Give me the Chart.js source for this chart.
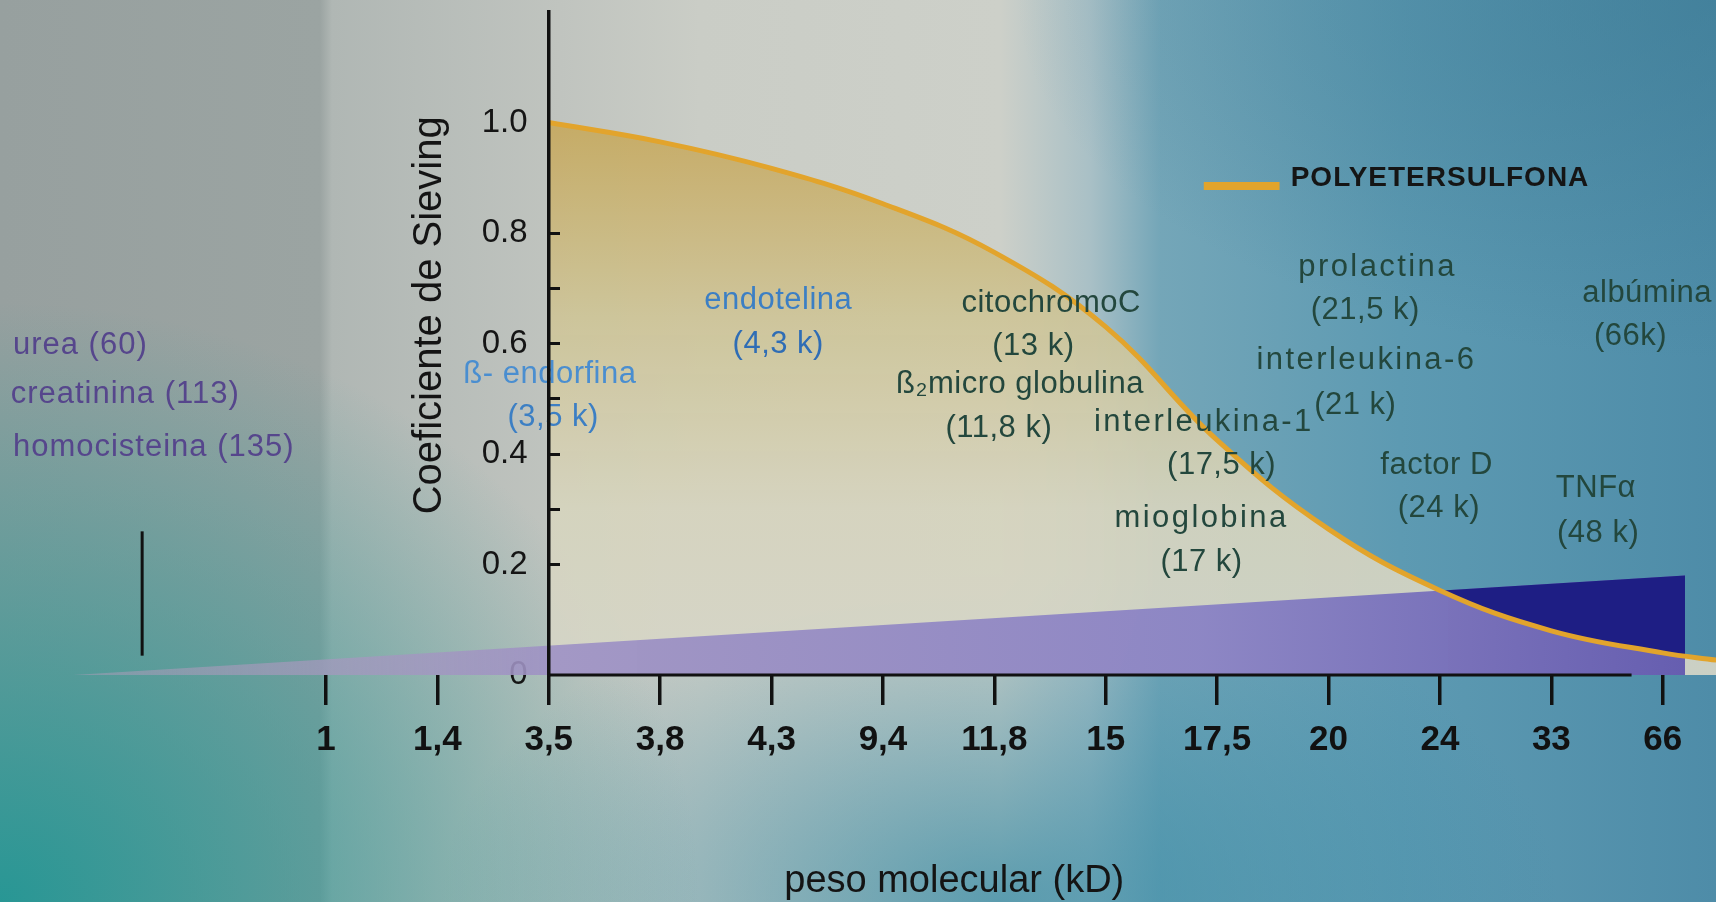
<!DOCTYPE html>
<html>
<head>
<meta charset="utf-8">
<script src="https://cdn.jsdelivr.net/npm/chart.js@4.4.1/dist/chart.umd.min.js"></script>
<style>
  html, body { margin: 0; padding: 0; }
  body {
    width: 1716px; height: 902px; overflow: hidden;
    background:
      radial-gradient(ellipse 700px 600px at 0px 902px, rgba(34,150,148,0.95), rgba(34,150,148,0) 100%),
      radial-gradient(ellipse 560px 330px at 1000px 902px, rgba(52,138,165,0.75), rgba(52,138,165,0) 100%),
      radial-gradient(ellipse 700px 360px at 1716px 0px, rgba(60,122,148,0.6), rgba(60,122,148,0) 100%),
      linear-gradient(90deg, #97a09f 0px, #9ba4a2 320px, #b0b7b4 332px, #c0c4bf 560px, #cacdc6 700px, #cdd0c9 1000px, #a9c0c6 1090px, #74a6b8 1160px, #5d9ab2 1400px, #4e8ca8 1716px);
  }
  #wrap { position: relative; width: 1716px; height: 902px; }
</style>
</head>
<body>
<div id="wrap"><canvas id="sievingChart"></canvas></div>
<script>
// category ticks on the x axis (peso molecular, kD)
const xLabels = ['1', '1,4', '3,5', '3,8', '4,3', '9,4', '11,8', '15', '17,5', '20', '24', '33', '66'];
const yLabelValues = [0, 0.2, 0.4, 0.6, 0.8, 1.0];
const yLabelTexts = ['0', '0.2', '0.4', '0.6', '0.8', '1.0'];

// POLYETERSULFONA sieving curve, x = category index
const curveX = [2, 3, 4, 5, 6, 7, 8, 9, 10, 11, 12, 12.48];
const curveY = [1.0, 0.965, 0.917, 0.853, 0.765, 0.63, 0.425, 0.264, 0.153, 0.08, 0.04, 0.027];

// blue wedge under the curve
const wedgeX = [-2.27, 12.2];
const wedgeY = [0, 0.18];

// marker for urea / creatinina / homocisteina
const markerX = [-1.65, -1.65];
const markerY = [0.035, 0.26];

// x axis base line (starts at the y axis)
const baseX = [2, 11.72];
const baseY = [0, 0];

const yAxisAt = 2;
const orange = '#e2a42c';
const navy = '#1e1e84';
const purple = '#56468c';
const blue = '#3c7fc4';
const green = '#23473d';
const fontFamily = "'Liberation Sans', Arial, sans-serif";

const notes = [
  { text: 'urea (60)', x: -2.81, y: 0.596, color: purple, align: 'left', spacing: 1 },
  { text: 'creatinina (113)', x: -2.83, y: 0.508, color: purple, align: 'left', spacing: 1 },
  { text: 'homocisteina (135)', x: -2.81, y: 0.411, color: purple, align: 'left', spacing: 1 },
  { text: 'ß- endorfina', x: 2.01, y: 0.544, color: '#4a8ed0' },
  { text: '(3,5 k)', x: 2.04, y: 0.466, color: blue },
  { text: 'endotelina', x: 4.06, y: 0.678, color: blue },
  { text: '(4,3 k)', x: 4.06, y: 0.598, color: '#2f6db5' },
  { text: 'citochromoC', x: 6.51, y: 0.672, color: green },
  { text: '(13 k)', x: 6.35, y: 0.595, color: green },
  { text: 'ß₂micro globulina', x: 6.23, y: 0.526, color: green },
  { text: '(11,8 k)', x: 6.04, y: 0.446, color: green },
  { text: 'interleukina-1', x: 7.88, y: 0.457, color: green, spacing: 2.4 },
  { text: '(17,5 k)', x: 8.04, y: 0.379, color: green },
  { text: 'mioglobina', x: 7.86, y: 0.283, color: green, spacing: 2.4 },
  { text: '(17 k)', x: 7.86, y: 0.203, color: green },
  { text: 'prolactina', x: 9.44, y: 0.738, color: green, spacing: 2.4 },
  { text: '(21,5 k)', x: 9.33, y: 0.66, color: green },
  { text: 'interleukina-6', x: 9.34, y: 0.569, color: green, spacing: 2.4 },
  { text: '(21 k)', x: 9.24, y: 0.488, color: green },
  { text: 'factor D', x: 9.97, y: 0.379, color: green },
  { text: '(24 k)', x: 9.99, y: 0.301, color: green },
  { text: 'albúmina', x: 11.86, y: 0.691, color: green },
  { text: '(66k)', x: 11.71, y: 0.613, color: green },
  { text: 'TNFα', x: 11.4, y: 0.337, color: green },
  { text: '(48 k)', x: 11.42, y: 0.257, color: green }
];

const toPoints = (xs, ys) => xs.map((x, i) => ({ x: x, y: ys[i] }));

// labels, legend, axis titles
const textLayer = {
  id: 'textLayer',
  afterDatasetsDraw(chart) {
    const { ctx, scales: { x, y } } = chart;
    ctx.save();
    ctx.textBaseline = 'middle';
    notes.forEach(n => {
      ctx.font = '31px ' + fontFamily;
      ctx.letterSpacing = (n.spacing || 0.5) + 'px';
      ctx.fillStyle = n.color;
      ctx.textAlign = n.align || 'center';
      ctx.fillText(n.text, x.getPixelForValue(n.x), y.getPixelForValue(n.y));
    });

    // legend entry
    ctx.strokeStyle = orange;
    ctx.lineWidth = 8;
    ctx.beginPath();
    ctx.moveTo(x.getPixelForValue(7.88), y.getPixelForValue(0.885));
    ctx.lineTo(x.getPixelForValue(8.56), y.getPixelForValue(0.885));
    ctx.stroke();
    ctx.font = 'bold 28px ' + fontFamily;
    ctx.letterSpacing = '1px';
    ctx.fillStyle = '#151515';
    ctx.textAlign = 'left';
    ctx.fillText('POLYETERSULFONA', x.getPixelForValue(8.66), y.getPixelForValue(0.899));

    // x axis title
    ctx.font = '38px ' + fontFamily;
    ctx.letterSpacing = '0px';
    ctx.textAlign = 'center';
    ctx.fillStyle = '#141414';
    ctx.fillText('peso molecular (kD)', x.getPixelForValue(5.64), y.getPixelForValue(-0.373));

    // y axis title
    ctx.translate(x.getPixelForValue(0.93), y.getPixelForValue(0.651));
    ctx.rotate(-Math.PI / 2);
    ctx.font = '40px ' + fontFamily;
    ctx.fillText('Coeficiente de Sieving', 0, 0);
    ctx.restore();
  }
};

const noPad = function(scale) {
  scale.paddingTop = 0;
  scale.paddingBottom = 0;
  scale.paddingLeft = 0;
  scale.paddingRight = 0;
};

const ctx = document.getElementById('sievingChart').getContext('2d');
const sievingChart = new Chart(ctx, {
  type: 'line',
  data: {
    datasets: [
      {
        // part of the wedge above the curve
        data: toPoints(wedgeX, wedgeY),
        borderWidth: 0,
        pointRadius: 0,
        fill: { target: 2, above: navy, below: 'rgba(0,0,0,0)' }
      },
      {
        data: toPoints(wedgeX, wedgeY),
        borderWidth: 0,
        pointRadius: 0,
        fill: 'origin',
        backgroundColor: function(context) {
          const chart = context.chart;
          if (!chart.chartArea) return 'rgba(0,0,0,0)';
          const xs = chart.scales.x;
          const g = chart.ctx.createLinearGradient(xs.getPixelForValue(wedgeX[0]), 0, xs.getPixelForValue(wedgeX[1]), 0);
          g.addColorStop(0, 'rgba(178,158,186,0.45)');
          g.addColorStop(0.3, 'rgba(158,146,196,0.92)');
          g.addColorStop(0.7, 'rgba(138,130,196,0.95)');
          g.addColorStop(1, 'rgba(102,94,176,1)');
          return g;
        }
      },
      {
        label: 'POLYETERSULFONA',
        data: toPoints(curveX, curveY),
        borderColor: orange,
        borderWidth: 5,
        pointRadius: 0,
        tension: 0.4,
        fill: 'origin',
        backgroundColor: function(context) {
          const chart = context.chart;
          if (!chart.chartArea) return 'rgba(0,0,0,0)';
          const ys = chart.scales.y;
          const g = chart.ctx.createLinearGradient(0, ys.getPixelForValue(1.0), 0, ys.getPixelForValue(0));
          g.addColorStop(0, 'rgba(198,168,92,0.9)');
          g.addColorStop(0.35, 'rgba(206,196,150,0.9)');
          g.addColorStop(0.7, 'rgba(214,212,190,0.92)');
          g.addColorStop(1, 'rgba(214,214,200,0.92)');
          return g;
        }
      },
      {
        data: toPoints(baseX, baseY),
        borderColor: '#111',
        borderWidth: 3,
        pointRadius: 0,
        fill: false,
        clip: false
      },
      {
        data: toPoints(markerX, markerY),
        borderColor: '#111',
        borderWidth: 3,
        pointRadius: 0,
        fill: false,
        clip: false
      }
    ]
  },
  options: {
    responsive: true,
    maintainAspectRatio: false,
    animation: false,
    events: [],
    layout: { padding: { top: 12, left: 0, right: 0, bottom: 127 } },
    plugins: {
      legend: { display: false },
      tooltip: { enabled: false },
      filler: { drawTime: 'beforeDatasetsDraw' }
    },
    scales: {
      x: {
        type: 'linear',
        min: -2.926,
        max: 12.478,
        afterBuildTicks: function(scale) {
          scale.ticks = xLabels.map((_, i) => ({ value: i }));
        },
        afterFit: noPad,
        ticks: {
          autoSkip: false,
          maxRotation: 0,
          padding: 14,
          color: '#111',
          font: { family: fontFamily, size: 35, weight: 'bold' },
          callback: function(value) {
            return xLabels[value];
          }
        },
        grid: {
          drawOnChartArea: false,
          drawTicks: true,
          tickLength: 30,
          color: '#111',
          lineWidth: 3.5
        },
        border: { display: false }
      },
      y: {
        // tick labels, set a little left of the axis line
        type: 'linear',
        position: { x: yAxisAt - 0.19 },
        min: 0,
        max: 1.2,
        z: 1,
        afterFit: noPad,
        ticks: {
          stepSize: 0.1,
          padding: 0,
          color: '#151515',
          font: { family: fontFamily, size: 33 },
          callback: function(value) {
            const k = yLabelValues.findIndex(v => Math.abs(v - value) < 1e-6);
            return k >= 0 ? yLabelTexts[k] : '';
          }
        },
        grid: { drawOnChartArea: false, drawTicks: false },
        border: { display: false }
      },
      yLine: {
        type: 'linear',
        position: { x: yAxisAt },
        min: 0,
        max: 1.2,
        z: 1,
        afterFit: noPad,
        ticks: { display: false },
        grid: { drawOnChartArea: false, drawTicks: false },
        border: { display: true, color: '#111', width: 3.5, z: 2 }
      },
      yTicks: {
        // short inward tick marks on the y axis
        type: 'linear',
        position: { x: yAxisAt + 0.1 },
        min: 0,
        max: 1.2,
        z: 1,
        afterFit: noPad,
        ticks: { stepSize: 0.1, display: false },
        grid: {
          z: 2,
          drawOnChartArea: false,
          drawTicks: true,
          tickLength: 11,
          lineWidth: 3,
          tickWidth: 3,
          color: '#111',
          tickColor: function(c) {
            const v = c.tick ? c.tick.value : 0;
            return (v > 0.15 && v < 0.85) ? '#111' : 'rgba(0,0,0,0)';
          }
        },
        border: { display: false }
      }
    }
  },
  plugins: [textLayer]
});
</script>
</body>
</html>
